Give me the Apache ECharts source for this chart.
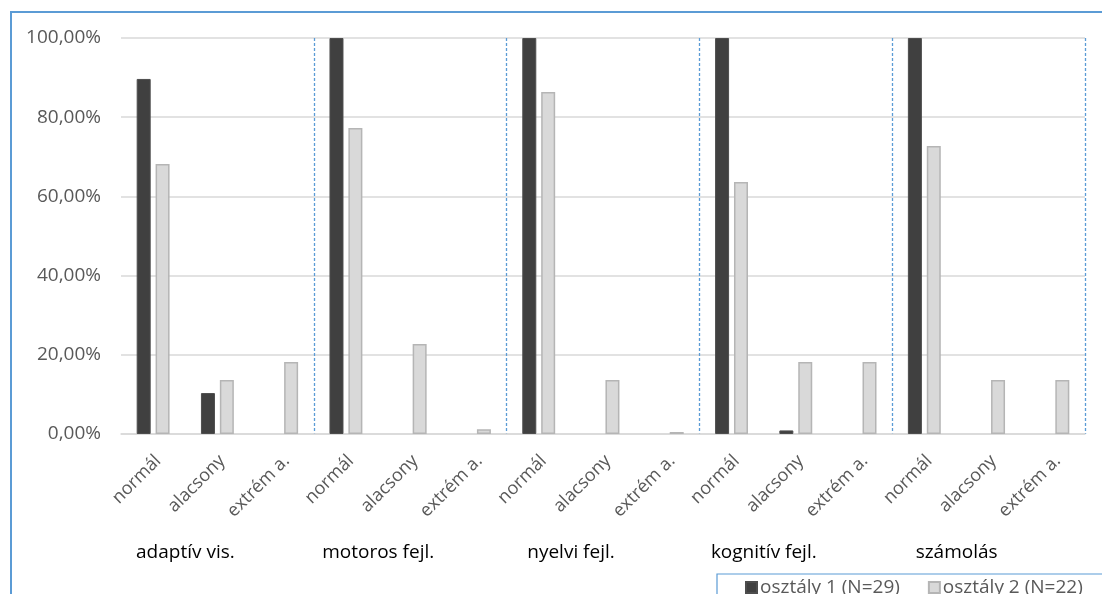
<!DOCTYPE html>
<html>
<head>
<meta charset="utf-8">
<script src="https://cdn.jsdelivr.net/npm/echarts@6/dist/echarts.min.js"></script>
<style>
  html, body { margin: 0; padding: 0; background: #fff; }
  #chart { width: 1102px; height: 594px; }
</style>
</head>
<body>
<div id="chart"></div>
<script>
// Skill areas (outer groups) and result levels (inner categories)
const groups = ['adaptív vis.', 'motoros fejl.', 'nyelvi fejl.', 'kognitív fejl.', 'számolás'];
const levels = ['normál', 'alacsony', 'extrém a.'];

// Share of pupils per level, in percent, group by group
const class1 = [89.66, 10.34, 0, 100, 0, 0, 100, 0, 0, 100, 0.9, 0, 100, 0, 0];
const class2 = [68.18, 13.64, 18.18, 77.27, 22.73, 1.2, 86.36, 13.64, 0.5, 63.64, 18.18, 18.18, 72.73, 13.64, 13.64];

const seriesNames = ['osztály 1 (N=29)', 'osztály 2 (N=22)'];
const yTicks = [0, 20, 40, 60, 80, 100];

const categories = [];
groups.forEach(() => levels.forEach(l => categories.push(l)));

// an empty share draws no bar at all (not even its outline)
const asBars = arr => arr.map(v => (v === 0 ? null : v));

const FONT = 'Open Sans';
const chart = echarts.init(document.getElementById('chart'));

chart.setOption({
  animation: false,
  textStyle: { fontFamily: FONT },
  grid: { left: 121, right: 17, top: 38, bottom: 160 },
  graphic: [
    // outer frame (top and left edges)
    { type: 'polyline', shape: { points: [[11, 600], [11, 12], [1110, 12]] },
      style: { stroke: '#5b9bd5', lineWidth: 2, fill: null }, z: 10 },
    // legend frame
    { type: 'rect', shape: { x: 717, y: 574, width: 420, height: 60 },
      style: { stroke: '#5b9bd5', lineWidth: 1.2, fill: '#fff' }, z: 1 }
  ],
  legend: {
    data: seriesNames,
    left: 740, top: 573,
    itemWidth: 11, itemHeight: 11, itemGap: 28,
    icon: 'rect',
    textStyle: { color: '#595959', fontSize: 19, fontFamily: FONT, padding: [0, 0, 0, -2] },
    z: 5
  },
  xAxis: [
    {
      type: 'category',
      data: categories,
      axisLine: { lineStyle: { color: '#d9d9d9', width: 1.5 } },
      axisTick: { show: false },
      axisLabel: { rotate: 45, color: '#595959', fontSize: 18, margin: 29, interval: 0, padding: [0, -7, 0, 0] },
      splitLine: { show: false }
    },
    {
      type: 'category',
      data: groups,
      position: 'bottom',
      axisLine: { show: false },
      axisTick: { show: false },
      axisLabel: { color: '#000', fontSize: 19, margin: 109, interval: 0, padding: [0, 64, 0, 0] },
      splitLine: {
        show: true, showMinLine: false, showMaxLine: true,
        lineStyle: { color: '#5b9bd5', type: [3, 2], width: 1.3 }
      }
    }
  ],
  yAxis: {
    type: 'value',
    min: yTicks[0], max: yTicks[yTicks.length - 1], interval: 20,
    axisLine: { show: false },
    axisTick: { show: false },
    axisLabel: {
      color: '#595959', fontSize: 19, margin: 20,
      formatter: v => v.toFixed(2).replace('.', ',') + '%'
    },
    splitLine: { lineStyle: { color: '#d9d9d9', width: 1.5 } }
  },
  series: [
    {
      name: seriesNames[0], type: 'bar', data: asBars(class1),
      barWidth: 14, barGap: '35%',
      itemStyle: { color: '#404040', borderColor: '#4d4d4d', borderWidth: 1 }
    },
    {
      name: seriesNames[1], type: 'bar', data: asBars(class2),
      barWidth: 14,
      itemStyle: { color: '#d9d9d9', borderColor: '#b5b5b5', borderWidth: 1.5 }
    }
  ]
});
</script>
</body>
</html>
